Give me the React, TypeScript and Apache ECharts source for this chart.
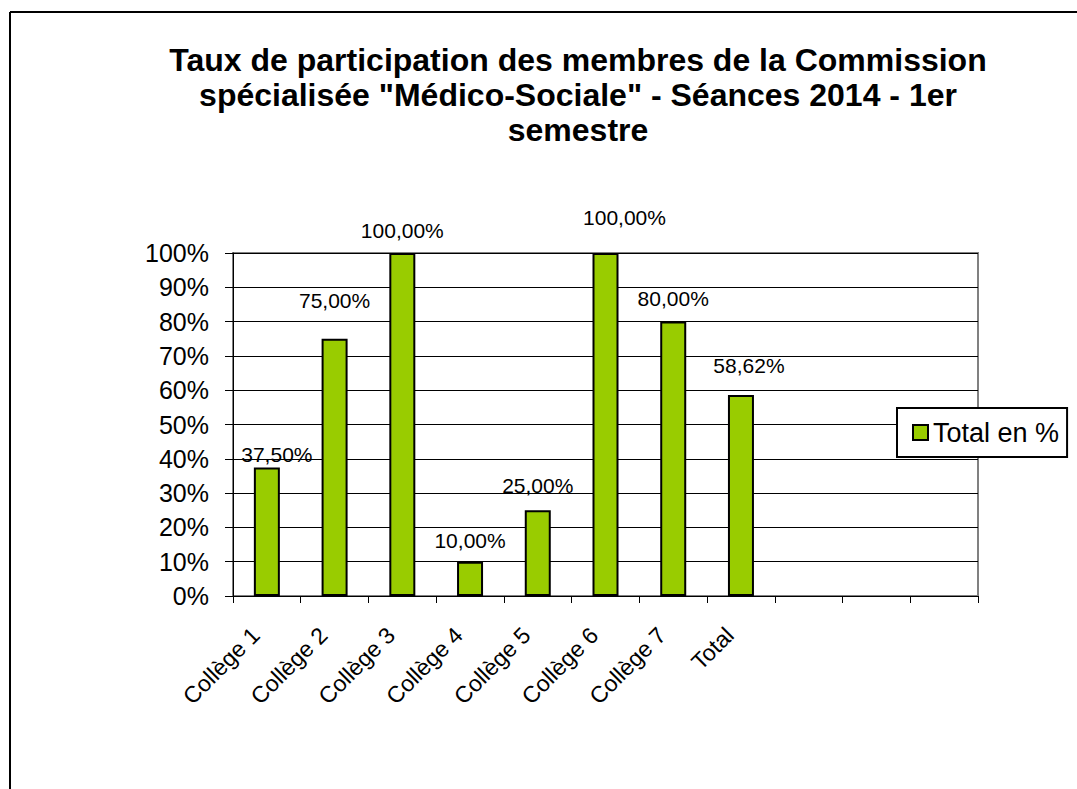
import React, { useEffect, useRef } from "react";
import * as echarts from "echarts";

const TITLE_LINES = [
  "Taux de participation des membres de la Commission",
  "spécialisée \"Médico-Sociale\" - Séances 2014 - 1er",
  "semestre",
];
const CATEGORIES = [
  "Collège 1",
  "Collège 2",
  "Collège 3",
  "Collège 4",
  "Collège 5",
  "Collège 6",
  "Collège 7",
  "Total",
  "",
  "",
  "",
];
const SERIES_NAME = "Total en %";
const VALUES = [37.5, 75, 100, 10, 25, 100, 80, 58.62];
const Y_MIN = 0;
const Y_MAX = 100;
const Y_STEP = 10;

// label placement tweaks (style only, not data)
const LABEL_SHIFTS: [number, number][] = [
  [10, 3],
  [0, -23],
  [0, -7],
  [0, -6],
  [0, -9],
  [19, -20],
  [0, -8],
  [8, -14],
];

const FONT = "'Liberation Sans', Arial, sans-serif";

export default function App() {
  const ref = useRef<HTMLDivElement>(null);
  useEffect(() => {
    if (!ref.current) return;
    const chart = echarts.init(ref.current, undefined, { renderer: "svg" });
    const fmt = (v: number) => v.toFixed(2).replace(".", ",") + "%";
    chart.setOption({
      animation: false,
      backgroundColor: "#ffffff",
      textStyle: { fontFamily: FONT },
      title: {
        text: TITLE_LINES.join("\n"),
        left: 578,
        top: 42,
        padding: 0,
        textAlign: "center",
        textStyle: {
          fontFamily: FONT,
          fontSize: 32,
          fontWeight: "bold",
          color: "#000",
          lineHeight: 35,
        },
      },
      legend: {
        data: [SERIES_NAME],
        left: 897,
        top: 408,
        orient: "vertical",
        icon: "rect",
        itemWidth: 15,
        itemHeight: 15,
        padding: [11, 8, 11, 15],
        borderColor: "#000",
        borderWidth: 2,
        backgroundColor: "#fff",
        borderRadius: 0,
        itemStyle: { borderColor: "#000", borderWidth: 2 },
        textStyle: { fontFamily: FONT, fontSize: 27, color: "#000" },
      },
      grid: {
        left: 233,
        right: 99,
        top: 253,
        bottom: 193,
        show: true,
        borderColor: "#808080",
        borderWidth: 2,
        backgroundColor: "#fff",
      },
      xAxis: {
        type: "category",
        data: CATEGORIES,
        boundaryGap: true,
        axisLine: { show: true, lineStyle: { color: "#000", width: 1 } },
        axisTick: { show: true, length: 7, alignWithLabel: false, lineStyle: { color: "#000" } },
        axisLabel: {
          interval: 0,
          rotate: 45,
          margin: 24,
          padding: [0, 16, 0, 0],
          fontFamily: FONT,
          fontSize: 23,
          color: "#000",
        },
        splitLine: { show: false },
      },
      yAxis: {
        type: "value",
        min: Y_MIN,
        max: Y_MAX,
        interval: Y_STEP,
        axisLine: { show: true, lineStyle: { color: "#000", width: 1 } },
        axisTick: { show: true, length: 8, lineStyle: { color: "#000" } },
        axisLabel: {
          formatter: "{value}%",
          margin: 24,
          fontFamily: FONT,
          fontSize: 25,
          color: "#000",
        },
        splitLine: { show: true, lineStyle: { color: "#000", width: 1 } },
      },
      series: [
        {
          name: SERIES_NAME,
          type: "bar",
          barWidth: 26,
          data: VALUES.map((v, i) => ({
            value: v,
            label: { offset: LABEL_SHIFTS[i] || [0, 0] },
          })),
          itemStyle: { color: "#99CC00", borderColor: "#000", borderWidth: 2 },
          label: {
            show: true,
            position: "top",
            distance: 5,
            formatter: (p: any) => fmt(p.value),
            fontFamily: FONT,
            fontSize: 21,
            color: "#000",
          },
        },
      ],
      graphic: [
        {
          type: "line",
          shape: { x1: 10, y1: 12, x2: 1077, y2: 12 },
          style: { stroke: "#000", lineWidth: 2 },
          silent: true,
        },
        {
          type: "line",
          shape: { x1: 10, y1: 12, x2: 10, y2: 789 },
          style: { stroke: "#000", lineWidth: 2 },
          silent: true,
        },
      ],
    });
    return () => chart.dispose();
  }, []);
  return (
    <div
      ref={ref}
      style={{ position: "fixed", left: 0, top: 0, width: 1077, height: 789 }}
    />
  );
}
